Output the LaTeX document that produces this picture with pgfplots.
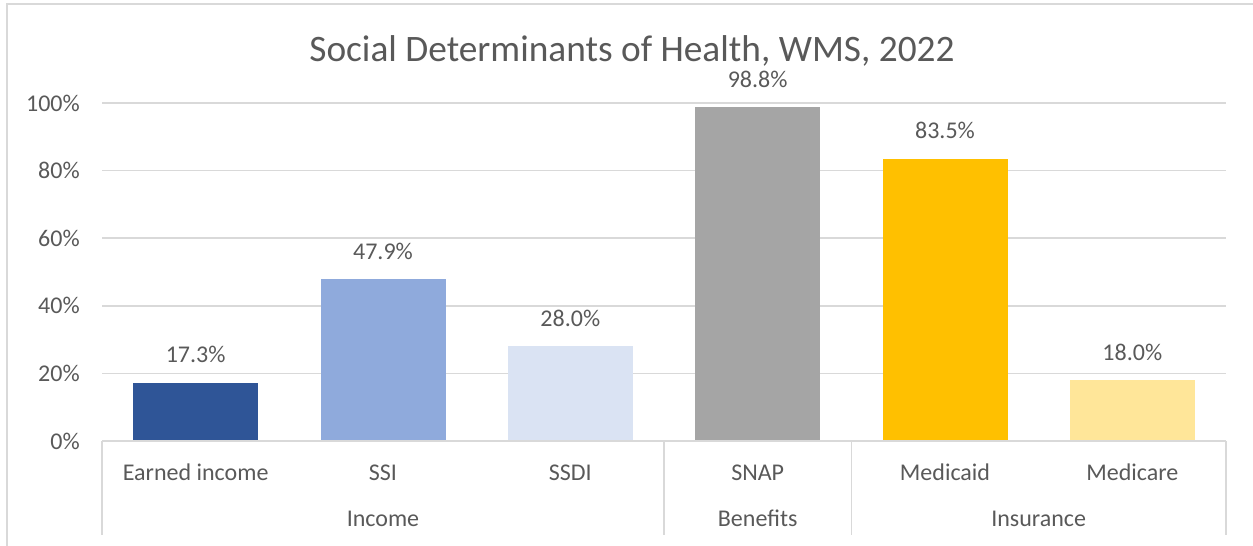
\documentclass[border=0pt]{standalone}
\usepackage{pgfplots}
\pgfplotsset{compat=1.18}
\usepackage{fontspec}
\setmainfont{Carlito}
\definecolor{txt}{HTML}{595959}
\definecolor{gridc}{HTML}{D9D9D9}
\definecolor{c1}{HTML}{2F5597}
\definecolor{c2}{HTML}{8FAADC}
\definecolor{c3}{HTML}{DAE3F3}
\definecolor{c4}{HTML}{A5A5A5}
\definecolor{c5}{HTML}{FFC000}
\definecolor{c6}{HTML}{FFE699}
\newcommand{\lab}{\fontsize{18}{21}\selectfont}
\begin{document}
\begin{tikzpicture}
\path[use as bounding box] (0,0) rectangle (939.75pt,409.5pt);
\draw[gridc, line width=1.2pt] (5.25pt,0) -- (5.25pt,406.5pt) -- (939.75pt,406.5pt);
\node[anchor=base, text=txt, font=\fontsize{28}{32}\selectfont, inner sep=0pt] at (474pt,363pt) {Social Determinants of Health, WMS, 2022};
\begin{axis}[
  at={(76.5pt,78.75pt)}, anchor=south west,
  scale only axis, width=843pt, height=253.5pt,
  xmin=-0.5, xmax=5.5, ymin=0, ymax=100,
  axis line style={draw=none},
  ymajorgrids=true, xmajorgrids=false, grid style={gridc, line width=1.1pt},
  ytick={0,20,...,100},
  yticklabel={\pgfmathprintnumber{\tick}\%},
  /pgf/number format/assume math mode=true,
  major tick length=0pt,
  yticklabel style={anchor=east, inner sep=0pt, xshift=-16.5pt, text=txt, font=\lab},
  xtick={0,...,5},
  xticklabels={Earned income, SSI, SSDI, SNAP, Medicaid, Medicare},
  xticklabel style={anchor=base, inner sep=0pt, yshift=-29.5pt, text=txt, font=\lab},
  ybar, bar width=93.75pt, bar shift=0pt,
  clip=false,
  nodes near coords={\pgfmathprintnumber[fixed,fixed zerofill,precision=1]{\pgfplotspointmeta}\%},
  nodes near coords style={anchor=base, inner sep=0pt, yshift=15pt, text=txt, font=\lab},
]
\addplot[draw=none, fill=c1] coordinates {(0,17.3)};
\addplot[draw=none, fill=c2] coordinates {(1,47.9)};
\addplot[draw=none, fill=c3] coordinates {(2,28.0)};
\addplot[draw=none, fill=c4] coordinates {(3,98.8)};
\addplot[draw=none, fill=c5] coordinates {(4,83.5)};
\addplot[draw=none, fill=c6] coordinates {(5,18.0)};
\draw[gridc, line width=1.1pt] (axis cs:-0.5,0) -- (axis cs:5.5,0);
\draw[gridc, line width=1.1pt] (axis cs:-0.5,0) -- ++(0pt,-70.5pt);
\draw[gridc, line width=1.1pt] (axis cs:2.5,0) -- ++(0pt,-70.5pt);
\draw[gridc, line width=1.1pt] (axis cs:3.5,0) -- ++(0pt,-70.5pt);
\draw[gridc, line width=1.1pt] (axis cs:5.5,0) -- ++(0pt,-70.5pt);
\node[anchor=base, inner sep=0pt, text=txt, font=\lab] at ([yshift=-64.1pt]axis cs:1,0) {Income};
\node[anchor=base, inner sep=0pt, text=txt, font=\lab] at ([yshift=-64.1pt]axis cs:3,0) {Benefits};
\node[anchor=base, inner sep=0pt, text=txt, font=\lab] at ([yshift=-64.1pt]axis cs:4.5,0) {Insurance};
\end{axis}
\end{tikzpicture}
\end{document}
